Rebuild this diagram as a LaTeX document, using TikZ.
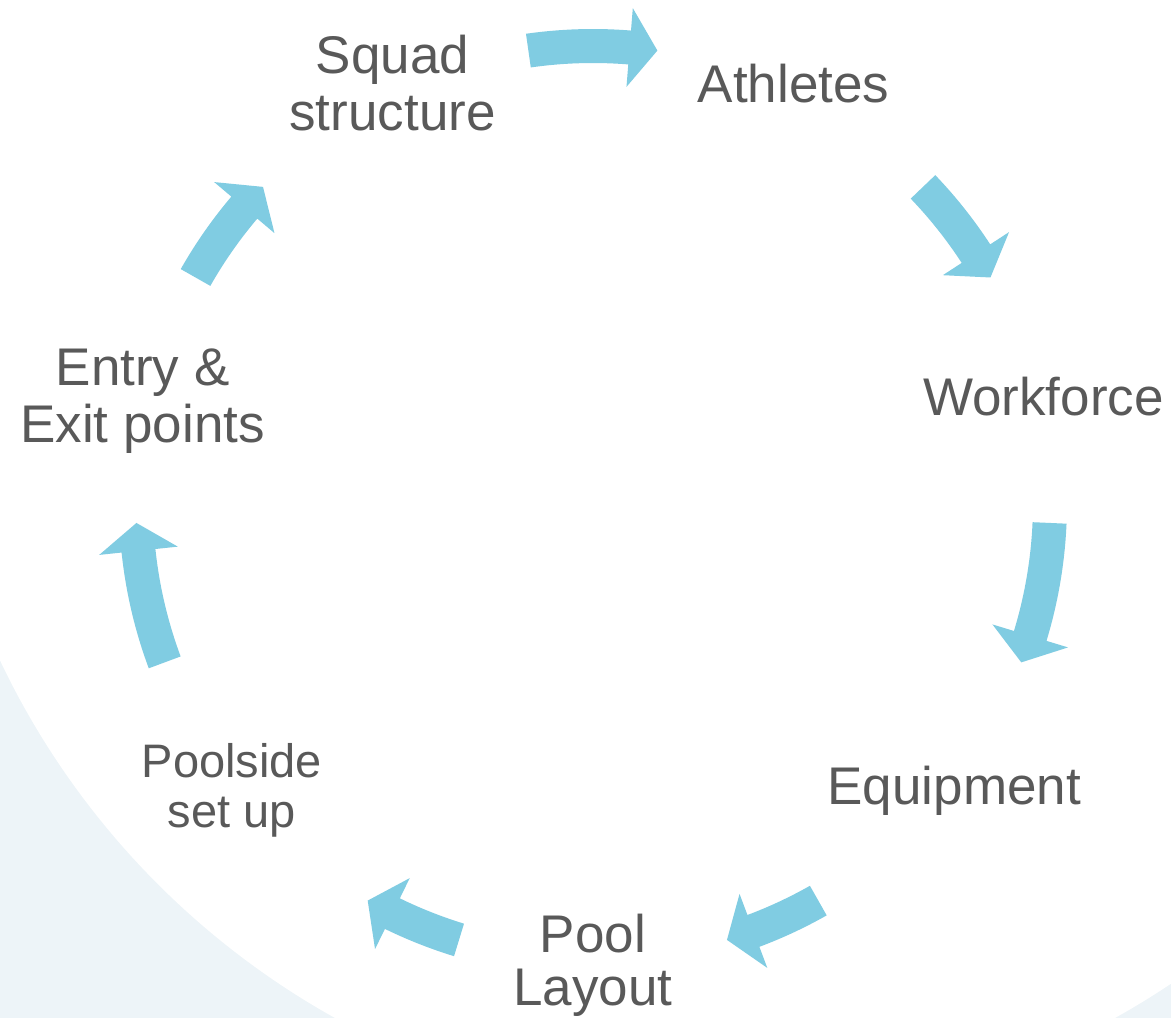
\documentclass[tikz,border=0pt]{standalone}
\usepackage{fontspec}
\setmainfont{Liberation Sans}
\definecolor{bgblue}{RGB}{237,244,248}
\definecolor{arrowblue}{RGB}{128,204,226}
\definecolor{txtgray}{RGB}{89,89,89}
\newcommand{\lnstrut}{\rule[-0.15em]{0pt}{0.99em}}
% tail angle, tip angle (clockwise arrows on the ring)
\newcommand{\cyarrow}[2]{%
  \fill[cyclearrow] ({#1}:237pt) arc[start angle={#1}, end angle={#2+3.5}, radius=237pt]
    -- ({#2+3.5}:248.25pt) -- ({#2}:228.5pt) -- ({#2+3.5}:208.75pt)
    -- ({#2+3.5}:220pt) arc[start angle={#2+3.5}, end angle={#1}, radius=220pt] -- cycle;}
\tikzset{
  cyclearrow/.style={fill=arrowblue},
  lbl/.style={text=txtgray, align=center, inner sep=0pt,
    font=\fontsize{26.5pt}{26.5pt}\selectfont},
  lblsmall/.style={lbl, font=\fontsize{23.5pt}{25pt}\selectfont},
}
\begin{document}
\begin{tikzpicture}[x=0.5pt,y=0.5pt]
\useasboundingbox (-593,-518) rectangle (578,500);
\fill[bgblue] (-593,-518) rectangle (578,500);
\fill[white] (132,183) circle[radius=401pt];

\node[lbl] (squad)     at (115.714:231pt) {\lnstrut Squad\\\lnstrut structure};
\node[lbl] (athletes)  at (64.286:231pt)  {\lnstrut Athletes};
\node[lbl] (workforce) at (12.857:231pt)  {\lnstrut Workforce};
\node[lbl] (equipment) at (-38.571:231pt) {\lnstrut Equipment};
\node[lbl] (pool)      at (-90:231pt)     {\lnstrut Pool\\\lnstrut Layout};
\node[lblsmall] (poolside) at (-141.429:231pt) {\lnstrut Poolside\\\lnstrut set up};
\node[lbl] (entry)     at (167.143:231pt) {\lnstrut Entry \&\\\lnstrut Exit points};

\begin{scope}[shift={(0,-3)}]
  \cyarrow{98.13}{81.9}
  \cyarrow{43.77}{29.57}
  \cyarrow{-2.5}{-20.41}
  \cyarrow{-60.46}{-72.95}
  \cyarrow{-107.05}{-119.54}
  \cyarrow{-159.59}{-177.5}
  \cyarrow{150.43}{136.23}
\end{scope}
\end{tikzpicture}
\end{document}
